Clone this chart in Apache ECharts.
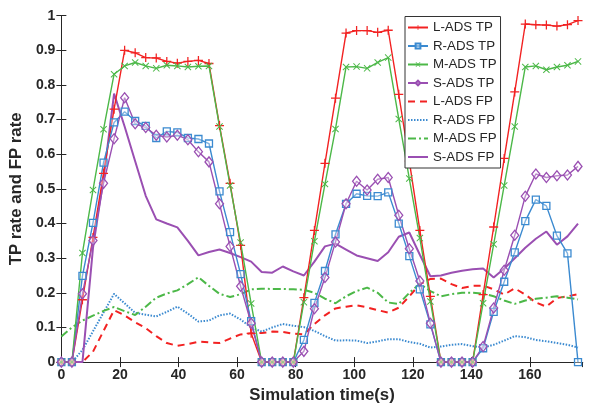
<!DOCTYPE html>
<html>
<head>
<meta charset="utf-8">
<script src="https://cdn.jsdelivr.net/npm/echarts@6.0.0/dist/echarts.min.js"></script>
<style>
  html, body { margin: 0; padding: 0; background: #fff; }
  #chart { width: 590px; height: 409px; }
</style>
</head>
<body>
<div id="chart"></div>
<script>
// Sampling instants (s)
var times = [0, 3.6, 7.2, 10.8, 14.4, 18, 21.6, 25.2, 28.8, 32.4,
  36, 39.6, 43.2, 46.8, 50.4, 54, 57.6, 61.2, 64.8, 68.4,
  72, 75.6, 79.2, 82.8, 86.4, 90, 93.6, 97.2, 100.8, 104.4,
  108, 111.6, 115.2, 118.8, 122.4, 126, 129.6, 133.2, 136.8, 140.4,
  144, 147.6, 151.2, 154.8, 158.4, 162, 165.6, 169.2, 172.8, 176.4];

// True-positive rates
var lAdsTP = [0, 0, 0.18, 0.36, 0.545, 0.73, 0.90, 0.893, 0.879, 0.878,
  0.868, 0.863, 0.868, 0.871, 0.862, 0.683, 0.516, 0.337, 0.083, 0,
  0, 0, 0, 0.186, 0.38, 0.574, 0.762, 0.95, 0.957, 0.957,
  0.952, 0.958, 0.773, 0.58, 0.38, 0.19, 0, 0, 0, 0,
  0.195, 0.39, 0.588, 0.78, 0.976, 0.974, 0.973, 0.97, 0.974, 0.986];
var rAdsTP = [0, 0, 0.249, 0.402, 0.576, 0.692, 0.723, 0.696, 0.682, 0.647,
  0.666, 0.663, 0.647, 0.644, 0.631, 0.493, 0.375, 0.254, 0.118, 0,
  0, 0, 0, 0.064, 0.171, 0.263, 0.369, 0.457, 0.486, 0.48,
  0.479, 0.49, 0.40, 0.306, 0.21, 0.109, 0, 0, 0, 0,
  0.04, 0.145, 0.232, 0.317, 0.407, 0.469, 0.451, 0.365, 0.314, 0];
var mAdsTP = [0, 0, 0.315, 0.497, 0.672, 0.831, 0.855, 0.865, 0.855, 0.848,
  0.857, 0.855, 0.852, 0.854, 0.855, 0.68, 0.51, 0.345, 0.169, 0,
  0, 0, 0, 0.173, 0.349, 0.514, 0.673, 0.852, 0.853, 0.848,
  0.865, 0.879, 0.702, 0.53, 0.358, 0.175, 0, 0, 0, 0,
  0.17, 0.34, 0.51, 0.68, 0.852, 0.855, 0.844, 0.852, 0.857, 0.868];
var sAdsTP = [0, 0, 0.197, 0.351, 0.516, 0.645, 0.763, 0.688, 0.677, 0.655,
  0.65, 0.655, 0.642, 0.607, 0.578, 0.457, 0.334, 0.219, 0.112, 0,
  0, 0, 0, 0.031, 0.154, 0.244, 0.347, 0.457, 0.522, 0.497,
  0.528, 0.533, 0.424, 0.327, 0.234, 0.112, 0, 0, 0, 0,
  0.045, 0.156, 0.265, 0.366, 0.479, 0.543, 0.533, 0.538, 0.54, 0.565];

// False-positive rates
var lAdsFP = [0, 0, 0, 0.03, 0.09, 0.15, 0.135, 0.115, 0.098, 0.075,
  0.055, 0.047, 0.052, 0.059, 0.057, 0.055, 0.068, 0.08, 0.083, 0.084,
  0.088, 0.087, 0.082, 0.08, 0.11, 0.135, 0.155, 0.16, 0.164, 0.158,
  0.15, 0.143, 0.157, 0.19, 0.225, 0.24, 0.241, 0.225, 0.214, 0.22,
  0.221, 0.21, 0.195, 0.213, 0.195, 0.172, 0.16, 0.185, 0.19, 0.196];
var rAdsFP = [0, 0, 0.035, 0.089, 0.143, 0.197, 0.17, 0.142, 0.137, 0.132,
  0.145, 0.16, 0.14, 0.117, 0.12, 0.135, 0.14, 0.123, 0.1, 0.088,
  0.1, 0.11, 0.105, 0.101, 0.09, 0.075, 0.062, 0.063, 0.062, 0.055,
  0.06, 0.066, 0.066, 0.058, 0.053, 0.042, 0.045, 0.05, 0.052, 0.046,
  0.042, 0.05, 0.062, 0.075, 0.072, 0.064, 0.06, 0.055, 0.05, 0.042];
var mAdsFP = [0.074, 0.1, 0.12, 0.134, 0.148, 0.159, 0.147, 0.136, 0.16, 0.186,
  0.198, 0.207, 0.225, 0.245, 0.22, 0.197, 0.188, 0.196, 0.21, 0.212,
  0.211, 0.211, 0.21, 0.209, 0.2, 0.183, 0.17, 0.19, 0.205, 0.215,
  0.2, 0.172, 0.168, 0.2, 0.226, 0.205, 0.19, 0.196, 0.2, 0.2,
  0.198, 0.19, 0.178, 0.168, 0.178, 0.183, 0.186, 0.19, 0.186, 0.181];
var sAdsFP = [0, 0, 0, 0.33, 0.53, 0.775, 0.68, 0.58, 0.48, 0.412,
  0.4, 0.389, 0.35, 0.308, 0.318, 0.325, 0.315, 0.303, 0.29, 0.26,
  0.258, 0.276, 0.262, 0.25, 0.29, 0.334, 0.342, 0.325, 0.308, 0.3,
  0.292, 0.317, 0.362, 0.374, 0.31, 0.248, 0.25, 0.258, 0.264, 0.268,
  0.27, 0.244, 0.27, 0.3, 0.33, 0.356, 0.377, 0.339, 0.363, 0.4];

var tpNames = ['L-ADS TP', 'R-ADS TP', 'M-ADS TP', 'S-ADS TP'];
var fpNames = ['L-ADS FP', 'R-ADS FP', 'M-ADS FP', 'S-ADS FP'];

var RED = '#f22222', BLUE = '#3b8ad0', GREEN = '#4cb848', PURPLE = '#9a4fb2';
var PLUS = 'path://M4.3,0H5.7V4.3H10V5.7H5.7V10H4.3V5.7H0V4.3H4.3Z';
var CROSS = 'path://M0,1L1,0L5,4L9,0L10,1L6,5L10,9L9,10L5,6L1,10L0,9L4,5Z';

function pairs(vals) {
  return times.map(function (t, i) { return [t, vals[i]]; });
}

function tpSeries(name, vals, color, symbol, size, hollow) {
  return {
    name: name, type: 'line', data: pairs(vals),
    symbol: symbol, symbolSize: size, showSymbol: true,
    color: color,
    lineStyle: { color: color, width: 1.4 },
    itemStyle: hollow
      ? { color: 'rgba(255,255,255,0.35)', borderColor: color, borderWidth: 1.3 }
      : { color: color, borderWidth: 0 },
    animation: false, z: 3
  };
}

function fpSeries(name, vals, color, dash) {
  return {
    name: name, type: 'line', data: pairs(vals),
    symbol: 'none', color: color,
    lineStyle: { color: color, width: 2, type: dash },
    animation: false, z: 2
  };
}

var font = 'Liberation Sans, Arial, Helvetica, sans-serif';
var axisCol = '#262626';

// legend entries: FP lines carry no marker
var legendData = tpNames.map(function (n) { return { name: n }; }).concat(
  fpNames.map(function (n) { return { name: n, itemStyle: { opacity: 0 } }; }));

var option = {
  backgroundColor: '#fff',
  animation: false,
  grid: { left: 61, right: 7.3, top: 15.7, bottom: 41.3, containLabel: false },
  legend: {
    data: legendData,
    orient: 'vertical',
    left: 405, top: 16.5,
    itemWidth: 20, itemHeight: 6, itemGap: 2.5,
    padding: [3, 4, 3, 2],
    backgroundColor: '#fff', borderColor: '#333', borderWidth: 1,
    textStyle: { fontFamily: font, fontSize: 13.3, color: axisCol, lineHeight: 16 }
  },
  xAxis: [{
    type: 'value', min: 0, max: 178, interval: 20,
    name: 'Simulation time(s)', nameLocation: 'middle', nameGap: 22,
    nameTextStyle: { fontFamily: font, fontSize: 16.8, fontWeight: 'bold', color: axisCol },
    axisLine: { show: true, lineStyle: { color: axisCol, width: 1 } },
    axisTick: { show: true, inside: true, length: 5, lineStyle: { color: axisCol } },
    axisLabel: { fontFamily: font, fontSize: 14, fontWeight: 'bold', color: axisCol, margin: 6, showMaxLabel: false },
    splitLine: { show: false }
  }, {
    type: 'value', position: 'top', min: 0, max: 178, interval: 20,
    axisLine: { show: true, lineStyle: { color: axisCol, width: 1 } },
    axisTick: { show: true, inside: true, length: 5, lineStyle: { color: axisCol } },
    axisLabel: { show: false }, splitLine: { show: false }
  }],
  yAxis: [{
    type: 'value', min: 0, max: 1, interval: 0.1,
    name: 'TP rate and FP rate', nameLocation: 'middle', nameGap: 30,
    nameTextStyle: { fontFamily: font, fontSize: 16.8, fontWeight: 'bold', color: axisCol },
    axisLine: { show: true, lineStyle: { color: axisCol, width: 1 } },
    axisTick: { show: true, inside: true, length: 5, lineStyle: { color: axisCol } },
    axisLabel: {
      fontFamily: font, fontSize: 14, fontWeight: 'bold', color: axisCol, margin: 6,
      formatter: function (v) { return String(Math.round(v * 10) / 10); }
    },
    splitLine: { show: false }
  }, {
    type: 'value', position: 'right', min: 0, max: 1, interval: 0.1,
    axisLine: { show: true, lineStyle: { color: axisCol, width: 1 } },
    axisTick: { show: true, inside: true, length: 5, lineStyle: { color: axisCol } },
    axisLabel: { show: false }, splitLine: { show: false }
  }],
  series: [
    tpSeries(tpNames[0], lAdsTP, RED, PLUS, 9, false),
    tpSeries(tpNames[1], rAdsTP, BLUE, 'rect', 7, true),
    tpSeries(tpNames[2], mAdsTP, GREEN, CROSS, 7, false),
    tpSeries(tpNames[3], sAdsTP, PURPLE, 'diamond', [8, 10], true),
    fpSeries(fpNames[0], lAdsFP, RED, [7, 5]),
    fpSeries(fpNames[1], rAdsFP, BLUE, [1.5, 1.5]),
    fpSeries(fpNames[2], mAdsFP, GREEN, [8, 3, 2, 3]),
    fpSeries(fpNames[3], sAdsFP, PURPLE, 'solid')
  ]
};

var chart = echarts.init(document.getElementById('chart'), null, { renderer: 'canvas' });
chart.setOption(option);
</script>
</body>
</html>
